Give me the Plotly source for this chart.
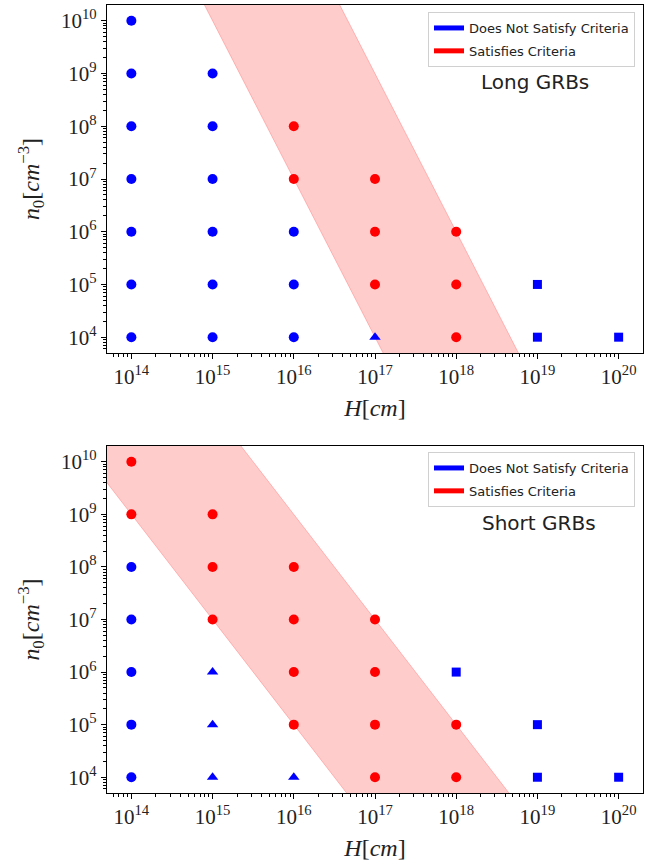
import numpy as np
import plotly.graph_objects as go

# ---------------- data ----------------
H_TICKS = [1e14, 1e15, 1e16, 1e17, 1e18, 1e19, 1e20]
H_TICK_TEXT = ["10<sup>14</sup>", "10<sup>15</sup>", "10<sup>16</sup>", "10<sup>17</sup>",
               "10<sup>18</sup>", "10<sup>19</sup>", "10<sup>20</sup>"]
N_TICKS = [1e4, 1e5, 1e6, 1e7, 1e8, 1e9, 1e10]
N_TICK_TEXT = ["10<sup>4</sup>", "10<sup>5</sup>", "10<sup>6</sup>", "10<sup>7</sup>",
               "10<sup>8</sup>", "10<sup>9</sup>", "10<sup>10</sup>"]

# Long GRBs
long_fail_circle_H = [1e14] * 7 + [1e15] * 6 + [1e16] * 3
long_fail_circle_n = [1e4, 1e5, 1e6, 1e7, 1e8, 1e9, 1e10,
                      1e4, 1e5, 1e6, 1e7, 1e8, 1e9,
                      1e4, 1e5, 1e6]
long_fail_triangle_H = [1e17]
long_fail_triangle_n = [1e4]
long_fail_square_H = [1e19, 1e19, 1e20]
long_fail_square_n = [1e4, 1e5, 1e4]
long_pass_H = [1e16, 1e16, 1e17, 1e17, 1e17, 1e18, 1e18, 1e18]
long_pass_n = [1e7, 1e8, 1e5, 1e6, 1e7, 1e4, 1e5, 1e6]
# allowed band: n * H^3 between these limits
long_band_low = 1e55
long_band_high = 1e60

# Short GRBs
short_fail_circle_H = [1e14] * 5
short_fail_circle_n = [1e4, 1e5, 1e6, 1e7, 1e8]
short_fail_triangle_H = [1e15, 1e15, 1e15, 1e16]
short_fail_triangle_n = [1e4, 1e5, 1e6, 1e4]
short_fail_square_H = [1e18, 1e19, 1e19, 1e20]
short_fail_square_n = [1e6, 1e4, 1e5, 1e4]
short_pass_H = [1e14, 1e14, 1e15, 1e15, 1e15, 1e16, 1e16, 1e16, 1e16,
                1e17, 1e17, 1e17, 1e17, 1e18, 1e18]
short_pass_n = [1e9, 1e10, 1e7, 1e8, 1e9, 1e5, 1e6, 1e7, 1e8,
                1e4, 1e5, 1e6, 1e7, 1e4, 1e5]
# allowed band: n * H^2 between these limits
short_band_low = 1e37
short_band_high = 1e41

# ---------------- layout geometry ----------------
W, HGT = 659, 868
X_DOM = [107 / W, 643 / W]
TOP_DOM = [1 - 353 / HGT, 1 - 5 / HGT]
BOT_DOM = [1 - 793 / HGT, 1 - 446 / HGT]

SERIF = "Liberation Serif, DejaVu Serif, serif"
SANS = "DejaVu Sans, sans-serif"

fig = go.Figure()

H_grid = np.logspace(12, 22, 200)


def add_panel(xa, ya, legend, band_pow, band_lo, band_hi,
              fc_H, fc_n, ft_H, ft_n, fs_H, fs_n, p_H, p_n):
    lo = band_lo / H_grid ** band_pow
    hi = band_hi / H_grid ** band_pow
    fig.add_trace(go.Scatter(x=H_grid, y=lo, mode="lines", xaxis=xa, yaxis=ya,
                             line=dict(color="rgba(255,0,0,0.22)", width=1),
                             showlegend=False, hoverinfo="skip"))
    fig.add_trace(go.Scatter(x=H_grid, y=hi, mode="lines", xaxis=xa, yaxis=ya,
                             fill="tonexty", fillcolor="rgba(255,0,0,0.2)",
                             line=dict(color="rgba(255,0,0,0.22)", width=1),
                             showlegend=False, hoverinfo="skip"))
    common = dict(mode="markers", xaxis=xa, yaxis=ya, showlegend=False)
    fig.add_trace(go.Scatter(x=fc_H, y=fc_n, marker=dict(color="blue", size=10, symbol="circle"), **common))
    fig.add_trace(go.Scatter(x=ft_H, y=ft_n, marker=dict(color="blue", size=10, symbol="triangle-up"), **common))
    fig.add_trace(go.Scatter(x=fs_H, y=fs_n, marker=dict(color="blue", size=9, symbol="square"), **common))
    fig.add_trace(go.Scatter(x=p_H, y=p_n, marker=dict(color="red", size=10, symbol="circle"), **common))
    # legend entries
    fig.add_trace(go.Scatter(x=[None], y=[None], mode="lines", xaxis=xa, yaxis=ya,
                             line=dict(color="blue", width=5), name="Does Not Satisfy Criteria",
                             legend=legend, legendgroup=legend + "a"))
    fig.add_trace(go.Scatter(x=[None], y=[None], mode="lines", xaxis=xa, yaxis=ya,
                             line=dict(color="red", width=5), name="Satisfies Criteria",
                             legend=legend, legendgroup=legend + "b"))


add_panel("x", "y", "legend", 3, long_band_low, long_band_high,
          long_fail_circle_H, long_fail_circle_n, long_fail_triangle_H, long_fail_triangle_n,
          long_fail_square_H, long_fail_square_n, long_pass_H, long_pass_n)
add_panel("x2", "y2", "legend2", 2, short_band_low, short_band_high,
          short_fail_circle_H, short_fail_circle_n, short_fail_triangle_H, short_fail_triangle_n,
          short_fail_square_H, short_fail_square_n, short_pass_H, short_pass_n)

minor_H = [m * 10.0 ** e for e in range(13, 21) for m in range(2, 10)]
minor_n = [m * 10.0 ** e for e in range(3, 11) for m in range(2, 10)]

axis_common = dict(type="log", showgrid=False, zeroline=False, showline=True,
                   linecolor="black", linewidth=1.2, mirror=True, ticks="outside",
                   ticklen=5, tickwidth=1, tickcolor="black",
                   tickfont=dict(family=SERIF, size=21, color="#222"))


def xaxis(anchor):
    return dict(axis_common, domain=X_DOM, anchor=anchor, range=[13.7, 20.3],
                tickmode="array", tickvals=H_TICKS, ticktext=H_TICK_TEXT,
                minor=dict(tickmode="array", tickvals=minor_H, ticks="outside",
                           ticklen=3, tickcolor="black", tickwidth=0.8),
                title=dict(text="<i>H</i>[<i>cm</i>]", font=dict(family=SERIF, size=24, color="#222"),
                           standoff=10))


def yaxis(anchor, dom):
    return dict(axis_common, domain=dom, anchor=anchor, range=[3.7, 10.3],
                tickmode="array", tickvals=N_TICKS, ticktext=N_TICK_TEXT,
                minor=dict(tickmode="array", tickvals=minor_n, ticks="outside",
                           ticklen=3, tickcolor="black", tickwidth=0.8),
                title=dict(text="<i>n</i><sub>0</sub>[<i>cm</i><sup>−3</sup>]",
                           font=dict(family=SERIF, size=24, color="#222"), standoff=14))


legend_common = dict(xanchor="right", yanchor="top", bgcolor="white",
                     bordercolor="#d0d0d0", borderwidth=1, traceorder="grouped",
                     font=dict(family=SANS, size=13, color="#222"),
                     tracegroupgap=3, itemwidth=30)

fig.update_layout(
    width=W, height=HGT,
    margin=dict(l=0, r=0, t=0, b=0),
    paper_bgcolor="white", plot_bgcolor="white",
    showlegend=True,
    xaxis=xaxis("y"),
    yaxis=yaxis("x", TOP_DOM),
    xaxis2=xaxis("y2"),
    yaxis2=yaxis("x2", BOT_DOM),
    legend=dict(legend_common, x=635 / W, y=1 - 12 / HGT),
    legend2=dict(legend_common, x=635 / W, y=1 - 452 / HGT),
    annotations=[
        dict(text="Long GRBs", x=535 / W, y=1 - 82 / HGT, xref="paper", yref="paper",
             xanchor="center", yanchor="middle",
             showarrow=False, font=dict(family=SANS, size=20, color="#222")),
        dict(text="Short GRBs", x=539 / W, y=1 - 523 / HGT, xref="paper", yref="paper",
             xanchor="center", yanchor="middle",
             showarrow=False, font=dict(family=SANS, size=20, color="#222")),
    ],
)

fig.write_html("out.html")
